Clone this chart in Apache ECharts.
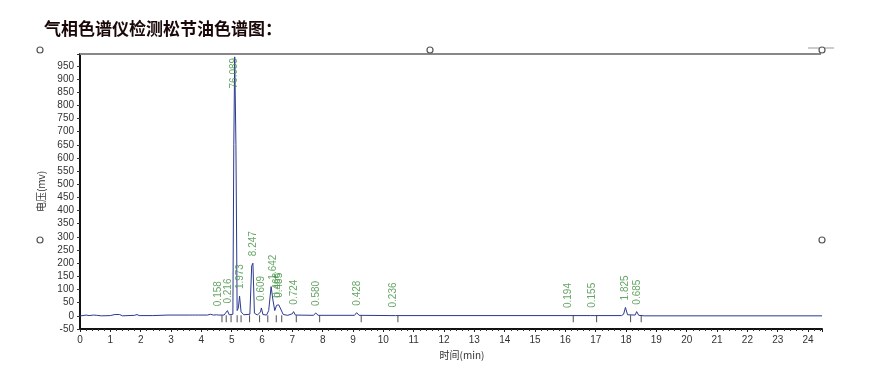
<!DOCTYPE html>
<html><head><meta charset="utf-8">
<script src="https://cdn.jsdelivr.net/npm/echarts@6/dist/echarts.min.js"></script>
<style>html,body{margin:0;padding:0;background:#fff}#c{width:876px;height:380px}</style>
</head><body><div id="c"></div>
<script>
// Chromatogram trace: retention time (min) and signal (mV)
const traceTime = [0,0.1,0.2,0.3,0.45,0.55,0.7,1.0,1.15,1.3,1.4,1.8,1.88,1.95,2.4,2.45,2.9,2.95,3.0,3.6,3.65,3.7,3.8,3.85,3.9,4.2,4.3,4.4,4.5,4.53,4.57,4.75,4.8,4.86,4.92,5.04,5.07,5.10,5.14,5.18,5.22,5.26,5.31,5.4,5.6,5.66,5.70,5.75,5.85,5.95,5.98,6.03,6.15,6.22,6.30,6.36,6.42,6.48,6.55,6.6,6.7,6.85,7.0,7.04,7.1,7.7,7.77,7.85,9.05,9.12,9.2,10.25,10.31,10.4,16.02,16.08,16.15,16.82,16.87,16.95,17.85,17.92,17.98,18.05,18.3,18.35,18.42,18.6,24.46];
const traceValue = [0,1,3,1,3,2,0,1,5,5,0,2,5,1,1,3,3,6,3,3,5,3,3,5,3,3,6,3,4,10,3,3,8,20,4,6,650,984,650,20,30,75,15,4,6,190,200,10,3,15,30,5,3,20,111,60,20,40,42,30,5,2,8,16,3,2,11,2,2,12,2,1,5,1,1,3,1,1,4,1,1,6,32,4,3,16,2,0,0];
// Peak annotations
const peakTime = [4.56,4.88,5.10,5.28,5.72,5.99,6.36,6.50,6.58,7.06,7.78,9.13,10.33,16.09,16.88,17.99,18.36];
const peakHeight = [10,20,984,75,200,30,111,42,42,16,11,12,5,3,4,32,16];
const peakLabel = ['0.158','0.216','76.089','1.973','8.247','0.609','1.642','0.466','0.485','0.724','0.580','0.428','0.236','0.194','0.155','1.825','0.685'];
// Integration boundary markers
const markTime = [4.68,4.82,4.98,5.18,5.31,5.59,5.92,6.19,6.47,6.65,7.13,7.9,9.27,10.48,16.26,17.03,18.15,18.5];
// Axes
const yMin = -50, yMax = 995, yStep = 50;
const xMin = 0, xMax = 24.46, xStep = 1;

const chart = echarts.init(document.getElementById('c'), null, {renderer:'canvas'});
const trace = traceTime.map((t,i)=>[t, traceValue[i]]);
const peaks = peakTime.map((t,i)=>{
  const d = {value:[t, peakHeight[i]], name: peakLabel[i]};
  if (peakHeight[i] > 900) d.label = {position:'bottom', align:'right', distance:1};
  return d;
});
const marks = markTime.map(t=>[t,0]);
const circ = (x,y)=>({type:'circle', shape:{cx:x, cy:y, r:3}, style:{fill:'#fff', stroke:'#555', lineWidth:1.2}, z:100});
chart.setOption({
  animation:false,
  backgroundColor:'#fff',
  title:{text:'气相色谱仪检测松节油色谱图：', left:39, top:15,
    textStyle:{fontFamily:'Noto Sans CJK SC', fontSize:17, fontWeight:'bold', color:'#1a0808'}},
  grid:{left:80, right:54, top:54, bottom:51, containLabel:false},
  xAxis:{type:'value', min:xMin, max:xMax, interval:xStep,
    name:'时间(min)', nameLocation:'middle', nameGap:16,
    nameTextStyle:{fontFamily:'Noto Sans CJK SC', fontSize:10, color:'#333', padding:[0,0,0,22]},
    axisLine:{onZero:false, lineStyle:{color:'#111', width:2}},
    axisTick:{show:true, length:3, lineStyle:{color:'#222'}},
    minorTick:{show:true, splitNumber:5, length:2, lineStyle:{color:'#333'}},
    axisLabel:{fontFamily:'Liberation Sans', fontSize:10, color:'#333', margin:6,
      formatter:v=> (Math.abs(v-Math.round(v))<1e-6 ? String(Math.round(v)) : '')},
    splitLine:{show:false}},
  yAxis:{type:'value', min:yMin, max:yMax, interval:yStep,
    name:'电压(mv)', nameLocation:'middle', nameGap:23, nameRotate:90,
    nameTextStyle:{fontFamily:'Noto Sans CJK SC', fontSize:10, color:'#333'},
    axisLine:{show:true, lineStyle:{color:'#111', width:2}},
    axisTick:{show:true, length:3, lineStyle:{color:'#333'}},
    axisLabel:{fontFamily:'Liberation Sans', fontSize:10, color:'#333', margin:6,
      formatter:v=> (v % 50 === 0 ? String(v) : '')},
    splitLine:{show:false}},
  series:[
    {type:'line', data:trace, showSymbol:false, symbol:'none', smooth:false,
     lineStyle:{color:'#2b3990', width:1}, z:3},
    {type:'scatter', data:marks, symbol:'rect', symbolSize:[1,7], symbolOffset:[0,3],
     itemStyle:{color:'#222'}, z:2},
    {type:'scatter', data:peaks, symbolSize:0, z:4,
     label:{show:true, position:'top', distance:7, rotate:90, align:'left', verticalAlign:'middle',
       formatter:p=>p.name, fontFamily:'Liberation Sans', fontSize:10, color:'#3f8f3f'}}
  ],
  graphic:[
    {type:'line', shape:{x1:80, y1:54, x2:821, y2:54}, style:{stroke:'#888', lineWidth:2}, z:90},
    {type:'line', shape:{x1:808, y1:48, x2:834, y2:48}, style:{stroke:'#999', lineWidth:1}, z:90},
    circ(40,50), circ(430,50), circ(822,50), circ(40,240), circ(822,240)
  ]
});
</script></body></html>
